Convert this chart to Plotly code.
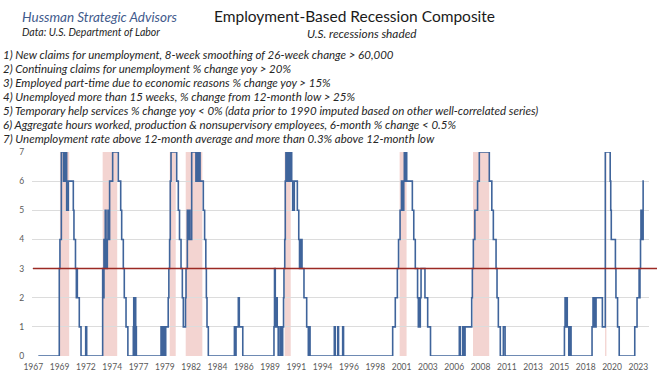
import plotly.graph_objects as go

# ---------------- data ----------------
change_years = [
    1967.96, 1969.89, 1969.95, 1970.08, 1970.28, 1970.32, 1970.42, 1970.46, 1970.57, 1970.72,
    1971.18, 1971.24, 1971.38, 1971.46, 1971.50, 1971.55, 1971.73, 1971.89, 1972.32, 1972.41,
    1973.88, 1973.94, 1974.00, 1974.07, 1974.12, 1974.19, 1974.25, 1974.31, 1974.37, 1974.44,
    1974.52, 1974.80, 1975.32, 1975.54, 1975.63, 1975.78, 1975.87, 1976.03, 1976.20,
    1976.70, 1976.74, 1976.81, 1976.86, 1976.92, 1976.98,
    1979.25, 1979.31, 1979.43, 1979.49, 1979.55, 1979.61, 1979.68, 1979.91, 1979.97, 1980.04,
    1980.10, 1980.17, 1980.69, 1980.84, 1980.95, 1981.09, 1981.21, 1981.30, 1981.50, 1981.55,
    1981.67, 1981.78, 1981.84, 1981.91, 1982.07, 1982.46, 1982.52, 1982.58, 1982.65, 1982.71,
    1982.77, 1982.84, 1983.14, 1983.26, 1983.37, 1983.42, 1983.48, 1983.60,
    1986.00, 1986.05, 1986.15, 1986.36, 1986.45, 1986.77,
    1989.64, 1989.69, 1989.76, 1989.83, 1989.89, 1989.94, 1990.03, 1990.19, 1990.25, 1990.31,
    1990.38, 1990.44, 1990.52, 1990.56, 1990.63, 1990.68, 1990.74, 1990.87, 1990.92, 1991.00,
    1991.05, 1991.12, 1991.18, 1991.27, 1991.36, 1991.51, 1991.79, 1991.92, 1991.99, 1992.04,
    1992.10, 1992.16, 1992.22, 1992.40, 1992.65, 1992.80, 1992.85, 1992.96,
    1995.19, 1995.28, 1995.51, 1995.58, 1995.96, 1996.04,
    2000.56, 2000.80, 2000.99, 2001.10, 2001.24, 2001.37, 2001.42, 2001.48, 2001.53, 2001.58,
    2001.63, 2001.67, 2001.72, 2001.85, 2002.37, 2002.50, 2002.64, 2002.85, 2002.92, 2002.98,
    2003.04, 2003.10, 2003.17, 2003.53, 2003.78, 2004.04,
    2006.69, 2006.78, 2007.00, 2007.08, 2007.22, 2007.83, 2007.89, 2007.98, 2008.12, 2008.37,
    2008.53, 2009.45, 2009.68, 2009.82, 2010.07, 2010.16, 2010.28, 2010.46, 2010.74, 2010.90,
    2016.36, 2016.42, 2016.51, 2016.56, 2016.62, 2016.76, 2016.80, 2016.86, 2016.91, 2016.97,
    2018.90, 2018.99, 2019.05, 2019.13, 2019.18, 2019.27, 2019.85, 2020.12, 2020.57, 2020.62,
    2020.67, 2021.05, 2021.10, 2021.25, 2021.40,
    2022.83, 2023.04, 2023.23, 2023.27, 2023.31, 2023.36, 2023.40, 2023.45, 2023.50, 2023.55,
    2023.60,
]
change_values = [
    0, 3, 4, 7, 6, 7, 6, 7, 5, 6,
    5, 4, 3, 2, 3, 2, 1, 0, 1, 0,
    3, 2, 4, 3, 5, 4, 3, 4, 5, 4,
    6, 7, 6, 5, 4, 3, 2, 1, 0,
    1, 2, 0, 2, 1, 0,
    1, 0, 1, 0, 1, 0, 1, 2, 3, 4,
    6, 7, 6, 5, 4, 3, 2, 1, 2, 3,
    5, 4, 5, 4, 7, 6, 7, 6, 7, 6,
    7, 6, 5, 4, 3, 2, 1, 0,
    1, 0, 1, 2, 1, 0,
    1, 3, 2, 1, 2, 1, 0, 1, 0, 1,
    0, 1, 2, 3, 4, 6, 7, 6, 7, 6,
    7, 6, 7, 6, 5, 6, 5, 4, 3, 4,
    3, 4, 3, 2, 1, 0, 1, 0,
    1, 0, 1, 0, 1, 0,
    1, 2, 3, 4, 5, 6, 5, 6, 5, 6,
    7, 6, 7, 6, 5, 4, 3, 2, 1, 2,
    1, 2, 3, 2, 1, 0,
    1, 0, 1, 0, 1, 2, 3, 4, 5, 6,
    7, 6, 5, 4, 3, 2, 1, 0, 1, 0,
    1, 2, 1, 2, 1, 0, 1, 0, 1, 0,
    1, 2, 1, 2, 1, 2, 1, 7, 6, 5,
    4, 3, 2, 1, 0,
    1, 2, 3, 2, 3, 4, 5, 4, 5, 4,
    6,
]
last_year = 2023.67

recession_starts = [1969.95, 1973.88, 1980.05, 1981.52, 1990.62, 2001.20, 2007.95, 2020.10]
recession_ends = [1970.80, 1975.22, 1980.60, 1983.05, 1991.18, 2001.84, 2009.44, 2020.22]

threshold = 3

tick_labels = ["1967", "1969", "1972", "1974", "1977", "1979", "1982", "1984", "1986", "1989",
               "1991", "1994", "1996", "1998", "2001", "2003", "2006", "2008", "2011", "2013",
               "2015", "2018", "2020", "2023"]
tick_start = 1967.5
tick_step = 2.42

title_text = "Employment-Based Recession Composite"
brand_text = "Hussman Strategic Advisors"
source_text = "Data: U.S. Department of Labor"
shade_text = "U.S. recessions shaded"
criteria = [
    "1) New claims for unemployment, 8-week smoothing of 26-week change > 60,000",
    "2) Continuing claims for unemployment % change yoy > 20%",
    "3) Employed part-time due to economic reasons % change yoy > 15%",
    "4) Unemployed more than 15 weeks, % change from 12-month low > 25%",
    "5) Temporary help services % change yoy < 0% (data prior to 1990 imputed based on other well-correlated series)",
    "6) Aggregate hours worked, production & nonsupervisory employees, 6-month % change < 0.5%",
    "7) Unemployment rate above 12-month average and more than 0.3% above 12-month low",
]

# ---------------- layout geometry ----------------
W, H = 661, 374
ML, MR, MT, MB = 32, 12, 152, 18
x_range = [1967.38, 2024.14]
y_range = [0, 7]
PW = W - ML - MR
PH = H - MT - MB


def paper_x(px):
    return (px - ML) / PW


def paper_y(py):
    return (H - MB - py) / PH


FONT = "Lato, 'Open Sans', sans-serif"
LINE_COLOR = "#3F649B"

fig = go.Figure()

fig.add_trace(go.Scatter(
    x=change_years + [last_year],
    y=change_values + [change_values[-1]],
    mode="lines",
    line=dict(color=LINE_COLOR, width=1.6, shape="hv"),
    hoverinfo="skip",
    showlegend=False,
))

shapes = []
for s, e in zip(recession_starts, recession_ends):
    shapes.append(dict(type="rect", xref="x", yref="paper", x0=s, x1=e, y0=0, y1=1,
                       fillcolor="#F3D4D1", line=dict(width=0), layer="between"))

thr_y = (threshold - y_range[0]) / (y_range[1] - y_range[0])
shapes.append(dict(type="line", xref="paper", yref="paper", x0=paper_x(33), x1=paper_x(657),
                   y0=thr_y, y1=thr_y, line=dict(color="#9C2A24", width=1.6), layer="above"))

annotations = []


def add_text(text, px, py, size, color="#262626", italic=True, xanchor="left"):
    annotations.append(dict(
        text=f"<i>{text}</i>" if italic else text,
        x=paper_x(px), y=paper_y(py), xref="paper", yref="paper",
        xanchor=xanchor, yanchor="middle", showarrow=False,
        font=dict(family=FONT, size=size, color=color),
    ))


add_text(brand_text, 20, 17, 13.5, color="#3F5A8C")
add_text(source_text, 20, 32, 10.5)
add_text(title_text, 212, 16, 15.5, color="#1A1A1A", italic=False)
add_text(shade_text, 305, 33, 11.8)
for i, line in enumerate(criteria):
    add_text(line, 1, 55 + i * 13.9, 11.5)

tick_vals = [tick_start + k * tick_step for k in range(len(tick_labels))]

fig.update_layout(
    width=W, height=H,
    margin=dict(l=ML, r=MR, t=MT, b=MB, pad=0, autoexpand=False),
    paper_bgcolor="white", plot_bgcolor="white",
    shapes=shapes, annotations=annotations,
    font=dict(family=FONT),
    xaxis=dict(range=x_range, tickmode="array", tickvals=tick_vals, ticktext=tick_labels,
               showgrid=False, zeroline=False, showline=False, automargin=False,
               ticks="outside", ticklen=3, tickcolor="rgba(0,0,0,0)",
               tickfont=dict(family=FONT, size=8.5, color="#595959")),
    yaxis=dict(range=y_range, tickmode="array", tickvals=list(range(0, 8)),
               showgrid=True, gridcolor="#DCDCDC", gridwidth=1, zeroline=False, showline=False,
               automargin=False,
               ticks="outside", ticklen=5, tickcolor="rgba(0,0,0,0)",
               tickfont=dict(family=FONT, size=8.5, color="#595959")),
)

fig.write_html("out.html", config={"displayModeBar": False},
               post_script="document.body.style.margin='0px';")
